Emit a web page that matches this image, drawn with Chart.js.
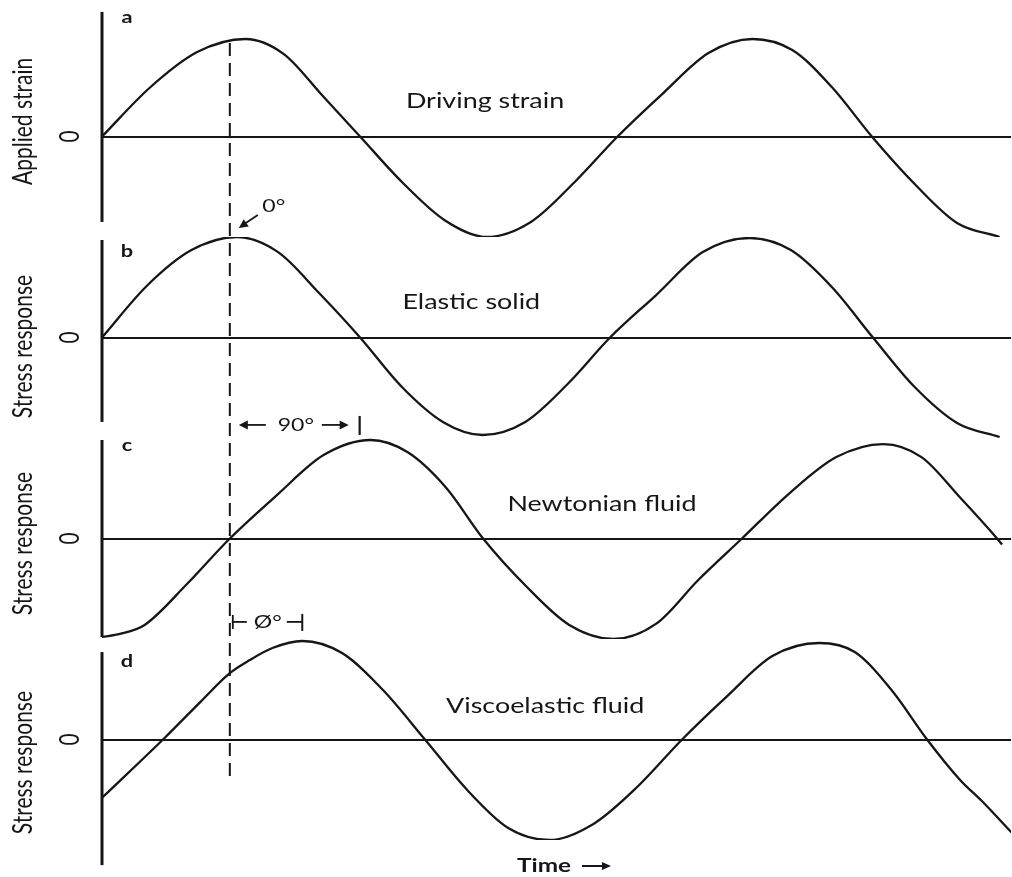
<!DOCTYPE html>
<html>
<head>
<meta charset="utf-8">
<script src="https://cdn.jsdelivr.net/npm/chart.js@4.4.1/dist/chart.umd.min.js"></script>
<style>
  html, body { margin: 0; padding: 0; background: #ffffff; }
  #wrap { position: relative; width: 1012px; height: 877px; }
</style>
</head>
<body>
<div id="wrap"><canvas id="chart" width="1012" height="877"></canvas></div>
<script>
// Phase angle (degrees of the driving cycle) and normalised amplitude for each trace.
const timeA   = [0, 34, 67, 101, 128, 155, 181.7, 211, 241, 271, 302, 333, 363, 395, 427, 458, 486, 514, 542, 572, 602, 632];
const strainA = [0, 0.49, 0.84, 0.97, 0.82, 0.41, 0, -0.45, -0.83, -1.0, -0.85, -0.45, 0, 0.43, 0.83, 0.97, 0.86, 0.49, 0, -0.47, -0.86, -1.0];

const timeB   = [0, 32, 63, 95, 124, 153, 181.7, 211, 240, 268, 298, 328, 357.7, 390, 423, 456, 485, 514, 542.8, 572, 602, 632];
const stressB = [0, 0.52, 0.87, 1.0, 0.85, 0.44, 0, -0.49, -0.84, -0.97, -0.84, -0.46, 0, 0.42, 0.85, 0.99, 0.87, 0.50, 0, -0.49, -0.85, -0.99];

const timeC   = [0, 12.7, 30, 60, 90, 123, 156, 189, 215, 242, 268.3, 299, 329, 360, 390, 420, 450.6, 484, 517, 550, 577, 604, 630.2, 633.7];
const stressC = [-0.98, -0.95, -0.86, -0.45, 0, 0.43, 0.83, 0.98, 0.86, 0.51, 0, -0.48, -0.86, -1.0, -0.85, -0.41, 0, 0.45, 0.81, 0.94, 0.81, 0.41, 0, -0.06];

const timeD   = [0, 44.4, 69, 90, 104, 120, 141, 169, 198, 227.4, 257, 286, 315, 346, 377, 408.4, 440, 472, 505, 530, 556, 580.9, 604, 620, 640.7];
const stressD = [-0.58, 0.02, 0.37, 0.66, 0.79, 0.91, 0.98, 0.86, 0.49, 0, -0.50, -0.88, -1.0, -0.84, -0.47, 0, 0.43, 0.83, 0.96, 0.87, 0.49, 0, -0.40, -0.62, -0.93];

const panelLetters = ['a', 'b', 'c', 'd'];
const panelTitles  = ['Applied strain', 'Stress response', 'Stress response', 'Stress response'];
const curveNames   = ['Driving strain', 'Elastic solid', 'Newtonian fluid', 'Viscoelastic fluid'];
const zeroLabel    = '0';
const phaseLabels  = { inPhase: '0°', quarter: '90°', lag: 'Ø°' };
const timeLabel    = 'Time';

// Phase (degrees) at which the reference line and the brackets sit.
const refPhase  = 90;
const quarterTo = 180;
const lagTo     = 141;

// ----- layout / styling -----
const INK = '#161616';
const FONT = 'Lato, "Open Sans", sans-serif';
const SX = 1.28;                       // horizontal stretch applied to lettering
const axisIds = ['yA', 'yB', 'yC', 'yD'];          // top panel first
const axisSpan   = [[1.24, -0.85], [0.97, -0.84], [0.98, -0.98], [0.87, -1.25]];
const titleAt    = [0.15, -0.09, -0.05, -0.23];
const letterAt   = [1.18, 0.86, 0.93, 0.78];
const nameAt     = [[269.7, 0.35], [260, 0.35], [352, 0.34], [312, 0.33]];

const zip = (xs, ys) => xs.map((x, i) => ({ x, y: ys[i] }));
const series = [zip(timeA, strainA), zip(timeB, stressB), zip(timeC, stressC), zip(timeD, stressD)];

const datasets = series.map((pts, i) => ({
  label: curveNames[i],
  data: pts,
  yAxisID: axisIds[i],
  borderColor: INK,
  borderWidth: 2.3,
  pointRadius: 0,
  fill: false,
  cubicInterpolationMode: 'monotone'
}));

// Stacked panels are laid out bottom-up, so register the lowest panel first.
const yScales = {};
axisIds.slice().reverse().forEach((id) => {
  yScales[id] = {
    type: 'linear',
    position: 'left',
    stack: 'panels',
    stackWeight: 1,
    min: -1,
    max: 1,
    ticks: { display: false },
    border: { display: false },
    grid: { drawTicks: false, color: INK, lineWidth: 2 },
    afterBuildTicks: (s) => { s.ticks = [{ value: 0 }]; },
    afterFit: (s) => { s.width = 0; }
  };
});

function hText(ctx, str, x, y, font, align) {
  ctx.save();
  ctx.translate(x, y);
  ctx.scale(SX, 1);
  ctx.font = font;
  ctx.textAlign = align || 'center';
  ctx.textBaseline = 'middle';
  ctx.fillText(str, 0, 0);
  ctx.restore();
}
function vText(ctx, str, x, y, font) {
  ctx.save();
  ctx.translate(x, y);
  ctx.scale(SX, 1);
  ctx.rotate(-Math.PI / 2);
  ctx.font = font;
  ctx.textAlign = 'center';
  ctx.textBaseline = 'middle';
  ctx.fillText(str, 0, 0);
  ctx.restore();
}
function arrowHead(ctx, x, y, dx, dy, len, half) {
  const n = Math.hypot(dx, dy); const ux = dx / n, uy = dy / n;
  ctx.beginPath();
  ctx.moveTo(x, y);
  ctx.lineTo(x - ux * len - uy * half, y - uy * len + ux * half);
  ctx.lineTo(x - ux * len + uy * half, y - uy * len - ux * half);
  ctx.closePath();
  ctx.fill();
}

const decorations = {
  id: 'decorations',
  afterDatasetsDraw(chart) {
    const ctx = chart.ctx;
    const xs = chart.scales.x;
    const x0 = xs.getPixelForValue(0);
    ctx.save();
    ctx.fillStyle = INK;
    ctx.strokeStyle = INK;

    axisIds.forEach((id, i) => {
      const ys = chart.scales[id];
      // vertical axis line
      ctx.lineWidth = 3;
      ctx.beginPath();
      ctx.moveTo(x0, ys.getPixelForValue(axisSpan[i][0]));
      ctx.lineTo(x0, ys.getPixelForValue(axisSpan[i][1]));
      ctx.stroke();
      // zero label, axis title, panel letter, trace name
      vText(ctx, zeroLabel, 70, ys.getPixelForValue(0), '21px ' + FONT);
      vText(ctx, panelTitles[i], 23, ys.getPixelForValue(titleAt[i]), '21px ' + FONT);
      hText(ctx, panelLetters[i], xs.getPixelForValue(17.6), ys.getPixelForValue(letterAt[i]), 'bold 17px ' + FONT);
      hText(ctx, curveNames[i], xs.getPixelForValue(nameAt[i][0]), ys.getPixelForValue(nameAt[i][1]), '21px ' + FONT);
    });

    // dashed reference line at the strain maximum
    const xr = xs.getPixelForValue(refPhase);
    ctx.lineWidth = 2;
    ctx.setLineDash([13, 7]);
    ctx.beginPath();
    ctx.moveTo(xr, chart.scales.yA.getPixelForValue(0.93));
    ctx.lineTo(xr, chart.scales.yD.getPixelForValue(-0.37));
    ctx.stroke();
    ctx.setLineDash([]);

    // 0° marker with arrow
    const yB = chart.scales.yB, yC = chart.scales.yC;
    hText(ctx, phaseLabels.inPhase, xr + 44, chart.scales.yA.getPixelForValue(-0.69), '18px ' + FONT);
    ctx.lineWidth = 1.8;
    const ax1 = xr + 28, ay1 = chart.scales.yA.getPixelForValue(-0.78);
    const ax2 = xr + 9,  ay2 = chart.scales.yA.getPixelForValue(-0.91);
    ctx.beginPath(); ctx.moveTo(ax1, ay1); ctx.lineTo(ax2 + 4, ay2 - 3); ctx.stroke();
    arrowHead(ctx, ax2, ay2, ax2 - ax1, ay2 - ay1, 9, 4.5);

    // 90° bracket
    const qy = yB.getPixelForValue(-0.87);
    const qx2 = xs.getPixelForValue(quarterTo);
    ctx.beginPath(); ctx.moveTo(xr + 36, qy); ctx.lineTo(xr + 16, qy); ctx.stroke();
    arrowHead(ctx, xr + 9, qy, -1, 0, 9, 4.5);
    hText(ctx, phaseLabels.quarter, xr + 66, qy, '18px ' + FONT);
    ctx.beginPath(); ctx.moveTo(xr + 92, qy); ctx.lineTo(qx2 - 16, qy); ctx.stroke();
    arrowHead(ctx, qx2 - 9, qy, 1, 0, 9, 4.5);
    ctx.lineWidth = 2.2;
    ctx.beginPath(); ctx.moveTo(qx2 + 2, qy - 9); ctx.lineTo(qx2 + 2, qy + 10); ctx.stroke();

    // phase-lag bracket
    const ly = yC.getPixelForValue(-0.83);
    const lx2 = xs.getPixelForValue(lagTo);
    ctx.lineWidth = 1.8;
    ctx.beginPath(); ctx.moveTo(xr + 2, ly); ctx.lineTo(xr + 17, ly); ctx.stroke();
    ctx.beginPath(); ctx.moveTo(xr + 3, ly - 7); ctx.lineTo(xr + 3, ly + 7); ctx.stroke();
    hText(ctx, phaseLabels.lag, xr + 38, ly, '18px ' + FONT);
    ctx.beginPath(); ctx.moveTo(xr + 57, ly); ctx.lineTo(lx2, ly); ctx.stroke();
    ctx.lineWidth = 2;
    ctx.beginPath(); ctx.moveTo(lx2, ly - 8); ctx.lineTo(lx2, ly + 9); ctx.stroke();

    // time axis caption
    const ty = chart.chartArea.bottom + 26;
    hText(ctx, timeLabel, 544, ty, 'bold 19px ' + FONT);
    ctx.lineWidth = 2;
    ctx.beginPath(); ctx.moveTo(582, ty); ctx.lineTo(603, ty); ctx.stroke();
    arrowHead(ctx, 611, ty, 1, 0, 9, 4);
    ctx.restore();
  }
};

new Chart(document.getElementById('chart'), {
  type: 'line',
  data: { datasets },
  options: {
    responsive: false,
    animation: false,
    layout: { padding: { left: 102, right: 1, top: 36, bottom: 37 } },
    plugins: { legend: { display: false }, tooltip: { enabled: false } },
    scales: Object.assign({
      x: { type: 'linear', min: 0, max: 640, display: false }
    }, yScales)
  },
  plugins: [decorations]
});
</script>
</body>
</html>
